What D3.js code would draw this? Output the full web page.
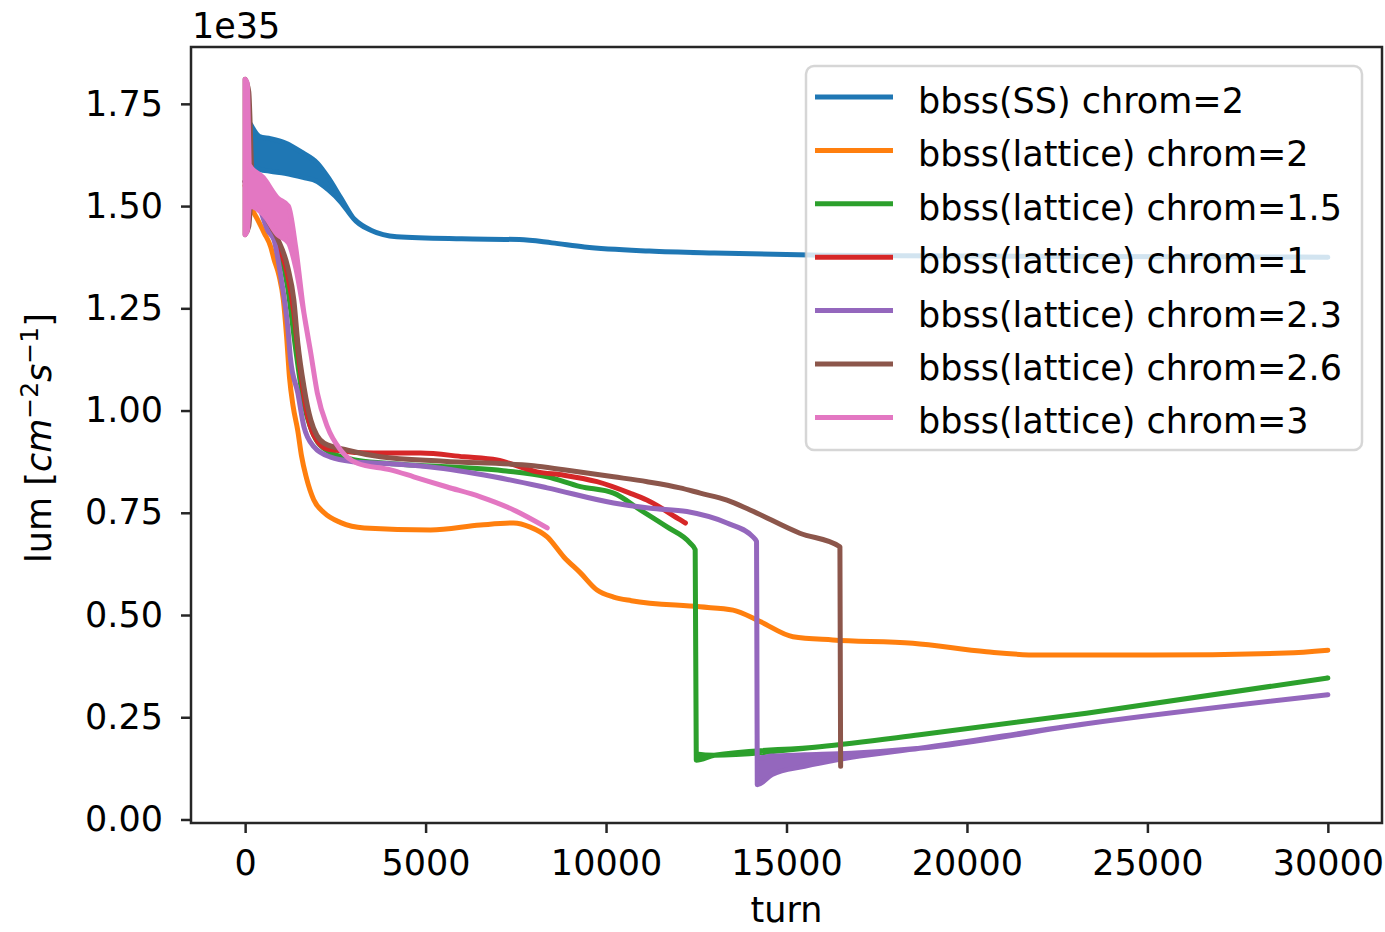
<!DOCTYPE html>
<html lang="en">
<head>
    <meta charset="UTF-8">
    <title>lum vs turn</title>
    <style>
        body { margin: 0; background: #fff; }
        text { font-family: "DejaVu Sans", sans-serif; fill: #000; }
        .axis text { font-size: 35px; }
        .axis path, .axis line { stroke: #262626; stroke-width: 2.5px; }
    </style>
</head>
<body>
    <div id="chart"></div>

    <script src="https://d3js.org/d3.v7.min.js"></script>
    <script>
        const width = 1385;
        const height = 932;
        const margin = {top: 47, right: 3, bottom: 109, left: 191};

        // [turn, lum] or [turn, lumLow, lumHigh] where the curve oscillates (x1e35)
        const ssChrom2 = [
            [150, 1.60, 1.70], [400, 1.59, 1.67], [700, 1.585, 1.665], [1100, 1.58, 1.655],
            [1600, 1.57, 1.63], [2000, 1.56, 1.605], [2300, 1.54, 1.57], [2650, 1.51, 1.52],
            [3000, 1.47], [3500, 1.44], [4200, 1.425], [6000, 1.42], [7600, 1.418],
            [8500, 1.41], [9400, 1.40], [11200, 1.39], [13000, 1.385], [16000, 1.38],
            [20000, 1.378], [30000, 1.375]
        ];
        const latChrom2 = [
            [0, 1.55], [160, 1.50], [350, 1.466], [530, 1.434], [710, 1.40], [800, 1.37],
            [940, 1.33], [1060, 1.27], [1150, 1.18], [1230, 1.08], [1330, 1.01], [1460, 0.95],
            [1560, 0.89], [1700, 0.835], [1900, 0.782], [2190, 0.75], [2650, 0.726],
            [3300, 0.713], [5140, 0.708], [6520, 0.72], [7440, 0.725], [7900, 0.715],
            [8370, 0.691], [8830, 0.642], [9290, 0.603], [9750, 0.561], [10210, 0.544],
            [10700, 0.535], [12600, 0.52], [13520, 0.512], [14270, 0.484], [15180, 0.447],
            [16280, 0.439], [18500, 0.431], [20540, 0.41], [22000, 0.402], [25150, 0.402],
            [28840, 0.407], [30000, 0.414]
        ];
        const latChrom15 = [
            [0, 1.56], [600, 1.47], [900, 1.41], [1180, 1.30], [1400, 1.15], [1600, 1.03],
            [1850, 0.95], [2300, 0.90], [3000, 0.88], [3940, 0.871], [7150, 0.853],
            [8370, 0.838], [9290, 0.814], [10210, 0.798], [10950, 0.757], [11680, 0.716],
            [12330, 0.676], [12470, 0.66], [12500, 0.145, 0.16], [13000, 0.157],
            [15920, 0.178], [18690, 0.207], [23310, 0.26], [30000, 0.346]
        ];
        const latChrom1 = [
            [0, 1.56], [600, 1.47], [900, 1.41], [1180, 1.33], [1350, 1.24], [1500, 1.12],
            [1700, 1.0], [1900, 0.94], [2300, 0.905], [3570, 0.896], [4860, 0.896],
            [6060, 0.887], [6980, 0.879], [8090, 0.85], [8830, 0.842], [9750, 0.826],
            [10660, 0.798], [11130, 0.781], [12050, 0.733], [12200, 0.725]
        ];
        const latChrom23 = [
            [0, 1.56], [300, 1.52], [630, 1.44], [800, 1.417], [990, 1.327], [1180, 1.205],
            [1260, 1.124], [1460, 1.043], [1630, 0.96], [1910, 0.911], [2370, 0.886],
            [3000, 0.875], [4000, 0.87], [5140, 0.862], [6890, 0.838], [8370, 0.811],
            [10210, 0.774], [11230, 0.761], [12240, 0.753], [13350, 0.725], [14070, 0.691],
            [14170, 0.68], [14190, 0.085, 0.15], [14600, 0.11, 0.155], [15500, 0.13, 0.158],
            [16800, 0.152, 0.162], [18690, 0.174], [23310, 0.234], [30000, 0.305]
        ];
        const latChrom26 = [
            [0, 1.43, 1.81], [100, 1.45, 1.78], [200, 1.56], [600, 1.47], [900, 1.42],
            [1180, 1.351], [1350, 1.27], [1460, 1.165], [1630, 1.058], [1820, 0.977],
            [2190, 0.92], [2840, 0.903], [3750, 0.887], [5500, 0.876], [7990, 0.865],
            [8830, 0.855], [10210, 0.838], [11140, 0.826], [12050, 0.811], [12610, 0.798],
            [13350, 0.781], [13990, 0.757], [15370, 0.70], [16480, 0.667], [16500, 0.13]
        ];
        const latChrom3 = [
            [0, 1.43, 1.81], [60, 1.44, 1.80], [120, 1.50, 1.60], [500, 1.48, 1.57],
            [900, 1.43, 1.52], [1200, 1.41, 1.50], [1400, 1.35, 1.40], [1630, 1.238],
            [1820, 1.14], [2000, 1.043], [2280, 0.96], [2650, 0.903], [3110, 0.871],
            [4030, 0.855], [4670, 0.838], [5600, 0.813], [6520, 0.789], [7440, 0.757],
            [8370, 0.713]
        ];

        const seriesNames = [
            "bbss(SS) chrom=2", "bbss(lattice) chrom=2", "bbss(lattice) chrom=1.5",
            "bbss(lattice) chrom=1", "bbss(lattice) chrom=2.3", "bbss(lattice) chrom=2.6",
            "bbss(lattice) chrom=3"
        ];
        const seriesData = [ssChrom2, latChrom2, latChrom15, latChrom1, latChrom23, latChrom26, latChrom3];
        const colors = ["#1f77b4", "#ff7f0e", "#2ca02c", "#d62728", "#9467bd", "#8c564b", "#e377c2"];

        const xTicks = [0, 5000, 10000, 15000, 20000, 25000, 30000];
        const yTicks = [0, 0.25, 0.5, 0.75, 1.0, 1.25, 1.5, 1.75];

        const w = width - margin.left - margin.right;
        const h = height - margin.top - margin.bottom;

        const svg = d3.select("#chart")
            .append("svg")
            .attr("width", width)
            .attr("height", height);

        const g = svg.append("g")
            .attr("transform", `translate(${margin.left},${margin.top})`);

        const x = d3.scaleLinear().domain([-1500, 31500]).range([0, w]);
        const y = d3.scaleLinear().domain([-0.0086, 1.889]).range([h, 0]);

        // each curve is drawn as a band, thin where low == high
        const area = d3.area()
            .curve(d3.curveMonotoneX)
            .x(d => x(d[0]))
            .y0(d => y(d[1]))
            .y1(d => y(d.length > 2 ? d[2] : d[1]));

        seriesData.forEach((data, i) => {
            g.append("path")
                .datum(data)
                .attr("d", area)
                .attr("fill", colors[i])
                .attr("stroke", colors[i])
                .attr("stroke-width", 5)
                .attr("stroke-linejoin", "round")
                .attr("stroke-linecap", "round");
        });

        const xAxis = g.append("g")
            .attr("class", "axis")
            .attr("transform", `translate(0,${h})`)
            .call(d3.axisBottom(x).tickValues(xTicks).tickSize(10).tickPadding(8).tickFormat(d3.format("d")));
        xAxis.select(".domain").remove();
        xAxis.selectAll("text").attr("dy", "0.98em");

        const yAxis = g.append("g")
            .attr("class", "axis")
            .call(d3.axisLeft(y).tickValues(yTicks).tickSize(10).tickPadding(18).tickFormat(d3.format(".2f")));
        yAxis.select(".domain").remove();

        // frame
        g.append("rect")
            .attr("width", w)
            .attr("height", h)
            .attr("fill", "none")
            .attr("stroke", "#262626")
            .attr("stroke-width", 2.5);

        // offset text
        svg.append("text")
            .attr("x", margin.left + 1)
            .attr("y", 38)
            .style("font-size", "35px")
            .text("1e35");

        // axis labels
        svg.append("text")
            .attr("x", margin.left + w / 2)
            .attr("y", 922)
            .attr("text-anchor", "middle")
            .style("font-size", "35px")
            .text("turn");

        const yLabel = svg.append("text")
            .attr("transform", `translate(51,${margin.top + h / 2 + 3}) rotate(-90)`)
            .attr("text-anchor", "middle")
            .style("font-size", "35px");
        yLabel.append("tspan").text("lum [");
        yLabel.append("tspan").style("font-style", "italic").text("cm");
        yLabel.append("tspan").attr("dy", -13).style("font-size", "25px").text("−2");
        yLabel.append("tspan").attr("dy", 13).style("font-style", "italic").text("s");
        yLabel.append("tspan").attr("dy", -13).style("font-size", "25px").text("−1");
        yLabel.append("tspan").attr("dy", 13).text("]");

        // legend
        const legend = svg.append("g").attr("transform", "translate(806,66)");
        legend.append("rect")
            .attr("width", 556)
            .attr("height", 384)
            .attr("rx", 8)
            .attr("fill", "#fff")
            .attr("fill-opacity", 0.8)
            .attr("stroke", "#ccc")
            .attr("stroke-opacity", 0.8)
            .attr("stroke-width", 2.5);

        seriesNames.forEach((name, i) => {
            const cy = 31 + i * 53.4;
            legend.append("line")
                .attr("x1", 9).attr("x2", 87)
                .attr("y1", cy).attr("y2", cy)
                .attr("stroke", colors[i])
                .attr("stroke-width", 5);
            legend.append("text")
                .attr("x", 112)
                .attr("y", cy + 16)
                .style("font-size", "35px")
                .text(name);
        });
    </script>
</body>
</html>
